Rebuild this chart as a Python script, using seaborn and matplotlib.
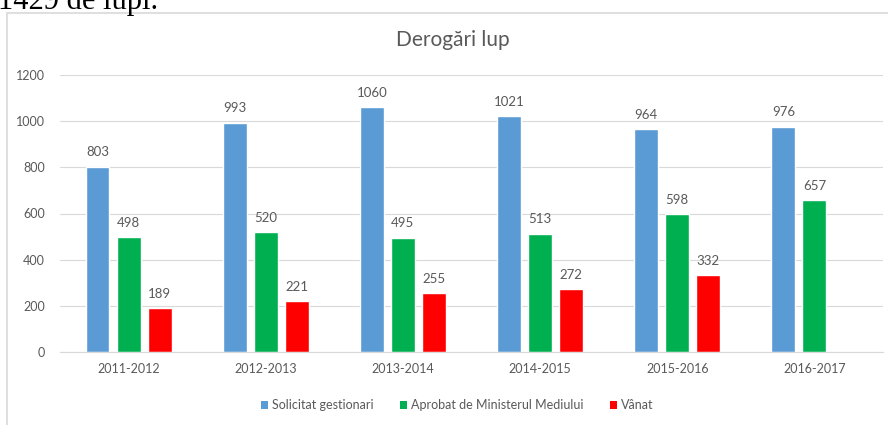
import matplotlib
matplotlib.use("Agg")
import matplotlib.pyplot as plt
import seaborn as sns
import pandas as pd
import numpy as np
from matplotlib.patches import Rectangle, Patch

seasons = ["2011-2012", "2012-2013", "2013-2014", "2014-2015", "2015-2016", "2016-2017"]
solicitat = [803, 993, 1060, 1021, 964, 976]
aprobat = [498, 520, 495, 513, 598, 657]
vanat = [189, 221, 255, 272, 332, np.nan]
series_names = ["Solicitat gestionari", "Aprobat de Ministerul Mediului", "Vânat"]
colors = ["#5B9BD5", "#00B050", "#FF0000"]
yticks = [0, 200, 400, 600, 800, 1000, 1200]

df = pd.DataFrame({
    "Sezon": seasons * 3,
    "Serie": [series_names[0]] * 6 + [series_names[1]] * 6 + [series_names[2]] * 6,
    "Valoare": solicitat + aprobat + vanat,
})

sns.set_theme(style="white")
plt.rcParams["font.family"] = ["Lato", "DejaVu Sans"]

fig = plt.figure(figsize=(8.88, 4.25), dpi=100)
ax = fig.add_axes([60 / 888, 1 - 352 / 425, 823 / 888, 277 / 425])

sns.barplot(data=df.dropna(), x="Sezon", y="Valoare", hue="Serie", order=seasons,
            hue_order=series_names, palette=colors, width=0.68, gap=0.23,
            saturation=1, ax=ax, legend=False)

txt = "#595959"
for cont in ax.containers:
    ax.bar_label(cont, fmt="%d", padding=6, color=txt, fontsize=9.5)

ax.set_ylim(0, 1200)
ax.set_xlim(-0.5, 5.5)
ax.set_yticks(yticks)
ax.set_yticklabels([str(v) for v in yticks])
ax.yaxis.grid(True, color="#D9D9D9", linewidth=0.8)
ax.set_axisbelow(True)
for s in ["top", "right", "left"]:
    ax.spines[s].set_visible(False)
ax.spines["bottom"].set_color("#D9D9D9")
ax.spines["bottom"].set_linewidth(0.8)
ax.tick_params(axis="y", length=0, pad=11, labelsize=9, labelcolor=txt)
ax.tick_params(axis="x", length=0, pad=8, labelsize=9, labelcolor=txt)
ax.set_xlabel("")
ax.set_ylabel("")

fig.text(453 / 888, 1 - 40 / 425, "Derogări lup", ha="center", va="center",
         fontsize=15, color=txt)

handles = [Patch(facecolor=c, edgecolor="none") for c in colors]
fig.legend(handles, series_names, loc="center", bbox_to_anchor=(457 / 888, 1 - 405 / 425),
           ncol=3, frameon=False, fontsize=9, labelcolor=txt, handlelength=0.6,
           handleheight=0.6, handletextpad=0.3, columnspacing=2.1)

fig.patches.append(Rectangle((7 / 888, -0.05), 1.0, 1 - 13 / 425 + 0.05,
                             transform=fig.transFigure, fill=False,
                             edgecolor="#D9D9D9", linewidth=1.2))

fig.text(-2 / 888, 1 - 9 / 425, "1429 de lupi.", ha="left", va="baseline",
         fontsize=22, color="black", family=["Liberation Serif", "DejaVu Serif"])

fig.savefig("out.png", dpi=100)
